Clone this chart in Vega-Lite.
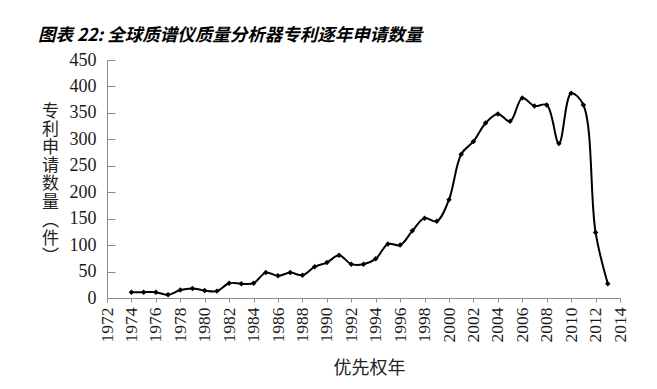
{
  "$schema": "https://vega.github.io/schema/vega-lite/v6.json",
  "width": 513,
  "height": 238,
  "autosize": "none",
  "padding": {"left": 107, "top": 60, "right": 37, "bottom": 91},
  "background": "white",
  "config": {"view": {"stroke": null}},
  "title": {
    "text": "图表 22: 全球质谱仪质量分析器专利逐年申请数量",
    "anchor": "start",
    "frame": "group",
    "dx": -69,
    "dy": 25,
    "offset": 14,
    "baseline": "bottom",
    "font": "Noto Sans CJK SC",
    "fontSize": 17.5,
    "fontWeight": "bold",
    "fontStyle": "italic",
    "color": "black"
  },
  "data": {
    "values": [
      {"year": 1974, "count": 11}, {"year": 1975, "count": 11}, {"year": 1976, "count": 11},
      {"year": 1977, "count": 6}, {"year": 1978, "count": 15}, {"year": 1979, "count": 18},
      {"year": 1980, "count": 14}, {"year": 1981, "count": 13}, {"year": 1982, "count": 28},
      {"year": 1983, "count": 27}, {"year": 1984, "count": 28}, {"year": 1985, "count": 48},
      {"year": 1986, "count": 42}, {"year": 1987, "count": 48}, {"year": 1988, "count": 43},
      {"year": 1989, "count": 59}, {"year": 1990, "count": 67}, {"year": 1991, "count": 81},
      {"year": 1992, "count": 64}, {"year": 1993, "count": 64}, {"year": 1994, "count": 74},
      {"year": 1995, "count": 102}, {"year": 1996, "count": 100}, {"year": 1997, "count": 127},
      {"year": 1998, "count": 151}, {"year": 1999, "count": 145}, {"year": 2000, "count": 186},
      {"year": 2001, "count": 272}, {"year": 2002, "count": 296}, {"year": 2003, "count": 331},
      {"year": 2004, "count": 348}, {"year": 2005, "count": 334}, {"year": 2006, "count": 378},
      {"year": 2007, "count": 363}, {"year": 2008, "count": 365}, {"year": 2009, "count": 292},
      {"year": 2010, "count": 387}, {"year": 2011, "count": 365}, {"year": 2012, "count": 124},
      {"year": 2013, "count": 27}
    ]
  },
  "mark": {
    "type": "line",
    "interpolate": "catmull-rom",
    "color": "black",
    "strokeWidth": 2,
    "point": {"shape": "diamond", "size": 30, "filled": true, "color": "black"}
  },
  "encoding": {
    "x": {
      "field": "year",
      "type": "quantitative",
      "scale": {"domain": [1972, 2014], "nice": false, "zero": false},
      "axis": {
        "values": [1972, 1974, 1976, 1978, 1980, 1982, 1984, 1986, 1988, 1990, 1992, 1994, 1996, 1998, 2000, 2002, 2004, 2006, 2008, 2010, 2012, 2014],
        "format": "d",
        "grid": false,
        "labelAngle": -90,
        "labelFont": "Liberation Serif",
        "labelFontSize": 17.5,
        "labelColor": "#1a1a1a",
        "labelPadding": 5,
        "labelOverlap": false,
        "labelFlush": false,
        "domainColor": "#8c8c8c",
        "tickColor": "#8c8c8c",
        "tickSize": 4,
        "title": "优先权年",
        "titleFont": "Noto Sans CJK SC",
        "titleFontSize": 18,
        "titleFontWeight": "normal",
        "titleColor": "#222222",
        "titleBaseline": "middle",
        "titleY": 70,
        "titleX": 262
      }
    },
    "y": {
      "field": "count",
      "type": "quantitative",
      "scale": {"domain": [0, 450], "nice": false},
      "axis": {
        "values": [0, 50, 100, 150, 200, 250, 300, 350, 400, 450],
        "grid": false,
        "labelFont": "Liberation Serif",
        "labelFontSize": 18,
        "labelColor": "#1a1a1a",
        "labelPadding": 19,
        "labelOverlap": false,
        "labelFlush": false,
        "domainColor": "#8c8c8c",
        "tickColor": "#8c8c8c",
        "tickSize": -8,
        "title": ["专", "利", "申", "请", "数", "量", "︵", "件", "︶"],
        "titleAngle": 0,
        "titleFont": "Noto Sans CJK SC",
        "titleFontSize": 17,
        "titleFontWeight": "normal",
        "titleColor": "#222222",
        "titleLineHeight": 18.2,
        "titleAlign": "center",
        "titleBaseline": "top",
        "titleX": -57,
        "titleY": 43
      }
    }
  }
}
